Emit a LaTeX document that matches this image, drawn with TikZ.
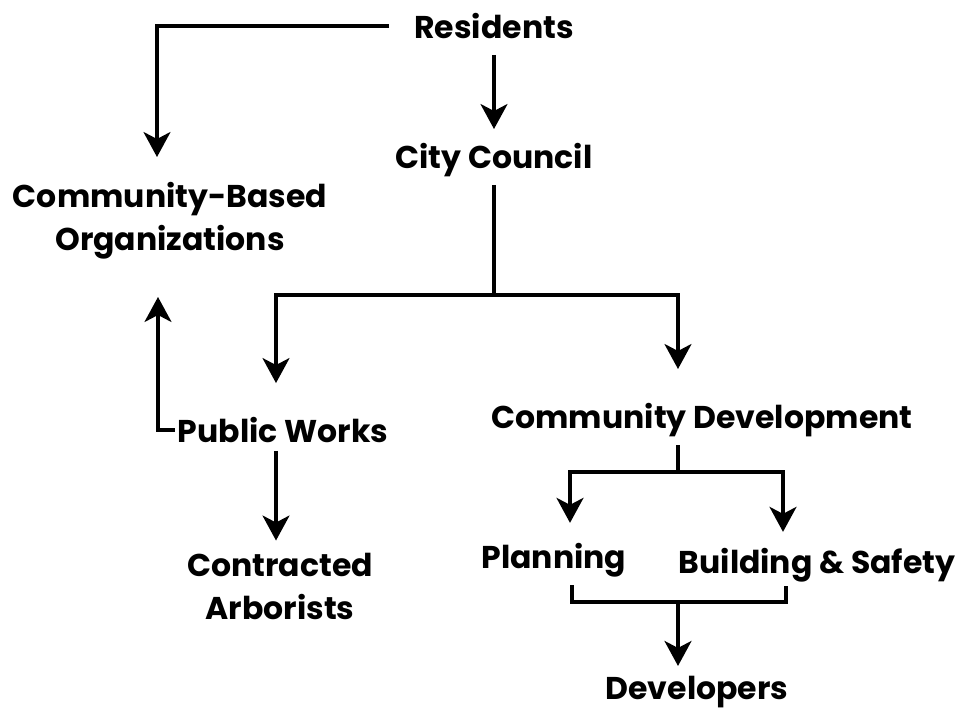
\documentclass[tikz,border=0pt]{standalone}
\usepackage{fontspec}
\setmainfont{Poppins}
\usetikzlibrary{arrows.meta}

\begin{document}
\begin{tikzpicture}[x=1pt,y=-1pt,
    lbl/.style={font=\bfseries\fontsize{31.5}{43}\selectfont, inner sep=0pt, align=center},
    link/.style={line width=3.2pt},
    arr/.style={link, -{Stealth[length=25pt,width=27pt,inset=7pt]}}]
    \useasboundingbox (0,0) rectangle (964,714);

    % Boxes (text only)
    \node[lbl] (res) at (494,26) {Residents};
    \node[lbl] (cc) at (494,160) {City Council};
    \node[lbl] (cbo) at (170,221) {Community-Based\\Organizations};
    \node[lbl] (pw) at (283,430) {Public Works};
    \node[lbl] (arb) at (280,586) {Contracted\\Arborists};
    \node[lbl] (cd) at (702,420) {Community Development};
    \node[lbl] (plan) at (554,560) {Planning};
    \node[lbl] (bs) at (817,565) {Building \& Safety};
    \node[lbl] (dev) at (697,692) {Developers};

    % Junctions
    \coordinate (cbotop) at (157,157);
    \coordinate (cbobot) at (158,297);
    \coordinate (ccj) at (494,295);
    \coordinate (cdj) at (678,472);
    \coordinate (devj) at (678,602);

    % Residents
    \draw[arr, shorten <=25pt] (res.west) -| (cbotop);
    \draw[arr, shorten <=16pt, shorten >=14pt] (res.south) -- (cc.north);

    % City Council
    \draw[link, shorten <=8pt] (cc.south) -- (ccj);
    \draw[arr, shorten >=34pt] (ccj) -| ([xshift=-7pt]pw.north);
    \draw[arr, shorten >=34pt] (ccj) -| ([xshift=-24pt]cd.north);

    % Public Works
    \draw[arr, shorten <=3pt] (pw.west) -| (cbobot);
    \draw[arr, shorten <=8pt, shorten >=12pt] ([xshift=-7pt]pw.south) -- ([xshift=-4pt]arb.north);

    % Community Development
    \draw[link, shorten <=8pt] ([xshift=-24pt]cd.south) -- (cdj);
    \draw[arr, shorten >=20pt] (cdj) -| ([xshift=16pt]plan.north);
    \draw[arr, shorten >=16pt] (cdj) -| ([xshift=-34pt]bs.north);

    % Developers
    \draw[link] ([xshift=18pt,yshift=-8pt]plan.south) |- (devj) -| ([xshift=-31pt,yshift=-4pt]bs.south);
    \draw[arr, shorten >=10pt] (devj) -- ([xshift=-19pt]dev.north);
\end{tikzpicture}
\end{document}
